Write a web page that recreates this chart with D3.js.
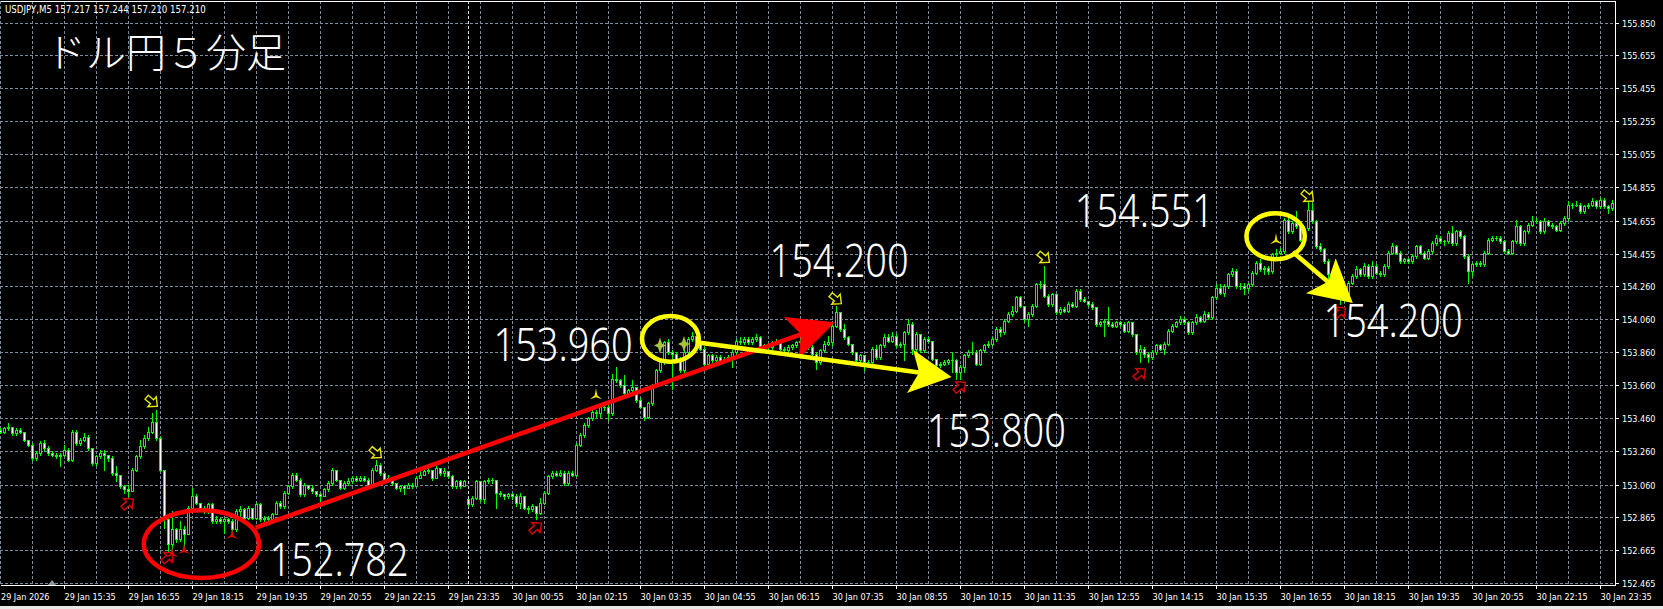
<!DOCTYPE html>
<html>
<head>
<meta charset="utf-8">
<script src="https://cdn.jsdelivr.net/npm/d3@7"></script>
<style>
  html, body { margin: 0; padding: 0; background: #000; }
  svg { display: block; }
  .axis text, .hdr { font-family: "DejaVu Sans Condensed", "DejaVu Sans", sans-serif; font-size: 9px; fill: #fff; }
  .hdr { font-size: 9.6px; }
</style>
</head>
<body>
<svg id="chart" width="1663" height="609"></svg>
<script>
// USDJPY M5, 29 Jan 14:15 .. 30 Jan 23:50, one line = 16 bars (80 min)
var firstOpen = 153.39;
var gapBars = [117];          // 30 Jan 00:00 opens away from the last close
var gapOpens = [152.97];

var closes = [
  153.38, 153.40, 153.41, 153.37, 153.39, 153.38, 153.33, 153.30, 153.22, 153.25, 153.31, 153.28, 153.25, 153.24, 153.23, 153.24,
  153.27, 153.21, 153.38, 153.31, 153.33, 153.35, 153.28, 153.19, 153.23, 153.25, 153.24, 153.22, 153.13, 153.12, 153.05, 153.03,
  153.02, 153.15, 153.23, 153.29, 153.34, 153.38, 153.44, 153.34, 153.15, 152.85, 152.70, 152.79, 152.73, 152.79, 152.76, 152.92,
  152.99, 152.95, 152.92, 152.90, 152.94, 152.84, 152.85, 152.84, 152.85, 152.84, 152.79, 152.90, 152.91, 152.86, 152.92, 152.86,
  152.94, 152.85, 152.86, 152.85, 152.88, 152.95, 152.93, 153.01, 153.05, 153.12, 153.09, 153.00, 153.06, 153.04, 153.02, 153.00,
  152.99, 153.03, 153.07, 153.15, 153.09, 153.04, 153.07, 153.08, 153.10, 153.09, 153.10, 153.09, 153.06, 153.15, 153.18, 153.13,
  153.09, 153.10, 153.07, 153.04, 153.05, 153.04, 153.06, 153.05, 153.10, 153.12, 153.14, 153.15, 153.10, 153.16, 153.13, 153.14,
  153.11, 153.05, 153.08, 153.05, 153.08, 152.94, 152.98, 153.08, 152.97, 153.08, 153.09, 153.09, 153.01, 153.00, 152.99, 153.00,
  152.99, 152.95, 152.99, 152.92, 152.91, 152.93, 152.89, 152.95, 153.01, 153.11, 153.13, 153.12, 153.13, 153.07, 153.13, 153.12,
  153.30, 153.36, 153.42, 153.46, 153.50, 153.49, 153.53, 153.53, 153.49, 153.70, 153.69, 153.66, 153.61, 153.63, 153.65, 153.57,
  153.53, 153.47, 153.55, 153.66, 153.75, 153.80, 153.92, 153.86, 153.85, 153.82, 153.75, 153.86, 153.94, 153.96, 153.91, 153.88,
  153.79, 153.84, 153.81, 153.83, 153.80, 153.82, 153.83, 153.86, 153.93, 153.92, 153.94, 153.92, 153.94, 153.95, 153.89, 153.90,
  153.89, 153.92, 153.93, 153.88, 153.87, 153.89, 153.90, 153.92, 153.93, 153.95, 153.89, 153.85, 153.80, 153.87, 153.91, 153.92,
  154.02, 154.10, 154.00, 153.95, 153.91, 153.86, 153.81, 153.84, 153.80, 153.80, 153.88, 153.83, 153.90, 153.95, 153.93, 153.96,
  153.90, 153.91, 153.98, 154.03, 153.88, 153.97, 153.87, 153.94, 153.93, 153.82, 153.78, 153.79, 153.80, 153.81, 153.81, 153.74,
  153.77, 153.84, 153.86, 153.86, 153.79, 153.87, 153.90, 153.91, 153.94, 154.00, 153.98, 154.05, 154.09, 154.11, 154.19, 154.14,
  154.06, 154.09, 154.14, 154.27, 154.27, 154.20, 154.15, 154.21, 154.10, 154.12, 154.11, 154.15, 154.14, 154.23, 154.18, 154.17,
  154.15, 154.13, 154.03, 154.04, 154.05, 154.03, 154.02, 154.04, 154.03, 153.99, 154.04, 153.97, 153.86, 153.88, 153.85, 153.83,
  153.86, 153.90, 153.88, 153.91, 153.99, 154.02, 154.04, 154.06, 154.04, 153.98, 154.04, 154.07, 154.05, 154.09, 154.07, 154.19,
  154.25, 154.22, 154.26, 154.33, 154.35, 154.26, 154.26, 154.25, 154.27, 154.34, 154.40, 154.36, 154.37, 154.35, 154.45, 154.46,
  154.47, 154.66, 154.59, 154.64, 154.62, 154.54, 154.61, 154.72, 154.65, 154.50, 154.48, 154.41, 154.33, 154.30, 154.20, 154.18,
  154.21, 154.28, 154.32, 154.36, 154.33, 154.38, 154.32, 154.38, 154.34, 154.33, 154.38, 154.46, 154.50, 154.46, 154.41, 154.42,
  154.41, 154.44, 154.50, 154.46, 154.43, 154.47, 154.52, 154.55, 154.53, 154.53, 154.58, 154.52, 154.59, 154.56, 154.44, 154.35,
  154.39, 154.40, 154.39, 154.46, 154.54, 154.55, 154.55, 154.53, 154.47, 154.46, 154.53, 154.62, 154.52, 154.59, 154.63, 154.65,
  154.65, 154.59, 154.65, 154.63, 154.62, 154.60, 154.64, 154.67, 154.75, 154.75, 154.75, 154.71, 154.74, 154.75, 154.77, 154.74,
  154.78, 154.74, 154.73, 154.76
];

var highs = [
  153.40, 153.41, 153.43, 153.41, 153.40, 153.40, 153.38, 153.33, 153.31, 153.26, 153.32, 153.33, 153.29, 153.26, 153.25, 153.25,
  153.30, 153.28, 153.39, 153.39, 153.34, 153.37, 153.36, 153.28, 153.24, 153.27, 153.27, 153.24, 153.23, 153.17, 153.12, 153.06,
  153.06, 153.16, 153.24, 153.33, 153.36, 153.41, 153.49, 153.51, 153.35, 153.15, 152.86, 152.90, 152.80, 152.84, 152.81, 152.93,
  153.04, 153.00, 152.95, 152.93, 152.95, 152.95, 152.87, 152.86, 152.86, 152.86, 152.85, 152.91, 152.93, 152.92, 152.93, 152.92,
  152.95, 152.95, 152.87, 152.87, 152.89, 152.96, 152.96, 153.02, 153.06, 153.13, 153.13, 153.10, 153.07, 153.06, 153.06, 153.02,
  153.01, 153.04, 153.08, 153.16, 153.15, 153.09, 153.08, 153.10, 153.11, 153.11, 153.11, 153.11, 153.10, 153.16, 153.21, 153.19,
  153.13, 153.12, 153.10, 153.07, 153.06, 153.06, 153.07, 153.07, 153.11, 153.14, 153.15, 153.17, 153.15, 153.17, 153.16, 153.16,
  153.14, 153.12, 153.09, 153.09, 153.09, 152.97, 152.99, 153.09, 153.05, 153.09, 153.10, 153.10, 153.09, 153.02, 153.00, 153.01,
  153.01, 153.00, 153.01, 152.99, 152.93, 152.94, 152.93, 152.98, 153.02, 153.12, 153.14, 153.14, 153.15, 153.14, 153.14, 153.14,
  153.31, 153.37, 153.43, 153.47, 153.52, 153.51, 153.54, 153.55, 153.54, 153.73, 153.77, 153.70, 153.72, 153.64, 153.69, 153.65,
  153.58, 153.53, 153.56, 153.67, 153.76, 153.81, 153.93, 153.94, 153.87, 153.86, 153.83, 153.87, 153.95, 153.98, 153.96, 153.92,
  153.89, 153.85, 153.85, 153.84, 153.84, 153.83, 153.84, 153.87, 153.94, 153.95, 153.95, 153.95, 153.95, 153.97, 153.96, 153.91,
  153.91, 153.93, 153.94, 153.93, 153.89, 153.90, 153.91, 153.93, 153.94, 153.97, 153.96, 153.90, 153.86, 153.88, 153.93, 153.96,
  154.04, 154.14, 154.10, 154.03, 153.96, 153.91, 153.86, 153.85, 153.84, 153.81, 153.89, 153.90, 153.91, 153.97, 153.97, 153.98,
  153.97, 153.92, 153.99, 154.06, 154.04, 153.98, 153.97, 153.95, 153.95, 153.93, 153.82, 153.80, 153.81, 153.82, 153.86, 153.82,
  153.78, 153.85, 153.87, 153.92, 153.87, 153.88, 153.91, 153.93, 153.95, 154.01, 154.01, 154.06, 154.10, 154.14, 154.20, 154.20,
  154.14, 154.10, 154.15, 154.28, 154.29, 154.38, 154.21, 154.22, 154.21, 154.13, 154.13, 154.16, 154.16, 154.24, 154.24, 154.19,
  154.17, 154.16, 154.13, 154.05, 154.06, 154.13, 154.04, 154.05, 154.05, 154.04, 154.05, 154.04, 153.97, 153.90, 153.89, 153.86,
  153.87, 153.91, 153.91, 153.92, 154.00, 154.03, 154.05, 154.08, 154.07, 154.05, 154.05, 154.09, 154.08, 154.11, 154.10, 154.20,
  154.27, 154.27, 154.27, 154.34, 154.37, 154.36, 154.28, 154.28, 154.28, 154.35, 154.41, 154.42, 154.38, 154.38, 154.46, 154.48,
  154.49, 154.67, 154.68, 154.65, 154.71, 154.63, 154.62, 154.78, 154.76, 154.66, 154.52, 154.49, 154.42, 154.34, 154.31, 154.21,
  154.22, 154.29, 154.33, 154.38, 154.37, 154.40, 154.39, 154.41, 154.39, 154.35, 154.39, 154.47, 154.52, 154.51, 154.47, 154.43,
  154.43, 154.45, 154.51, 154.51, 154.47, 154.48, 154.53, 154.57, 154.56, 154.54, 154.59, 154.62, 154.60, 154.60, 154.57, 154.45,
  154.40, 154.41, 154.41, 154.47, 154.55, 154.56, 154.56, 154.56, 154.54, 154.48, 154.54, 154.66, 154.63, 154.60, 154.64, 154.68,
  154.67, 154.66, 154.67, 154.66, 154.64, 154.63, 154.65, 154.68, 154.77, 154.76, 154.77, 154.76, 154.75, 154.76, 154.79, 154.78,
  154.79, 154.79, 154.75, 154.78
];

var lows = [
  153.37, 153.37, 153.39, 153.36, 153.36, 153.37, 153.32, 153.29, 153.21, 153.21, 153.24, 153.26, 153.24, 153.23, 153.22, 153.17,
  153.23, 153.20, 153.20, 153.30, 153.30, 153.32, 153.27, 153.18, 153.18, 153.22, 153.15, 153.20, 153.12, 153.08, 153.04, 153.01,
  152.99, 153.02, 153.14, 153.22, 153.28, 153.33, 153.37, 153.33, 153.14, 152.80, 152.66, 152.66, 152.71, 152.72, 152.68, 152.76,
  152.92, 152.94, 152.91, 152.89, 152.89, 152.83, 152.83, 152.83, 152.77, 152.83, 152.78, 152.78, 152.86, 152.85, 152.85, 152.85,
  152.85, 152.84, 152.84, 152.84, 152.84, 152.88, 152.92, 152.92, 153.00, 153.04, 153.08, 152.99, 152.99, 153.03, 153.01, 152.99,
  152.96, 152.99, 153.02, 153.06, 153.08, 153.03, 153.03, 153.06, 153.07, 153.08, 153.08, 153.08, 153.05, 153.05, 153.14, 153.12,
  153.08, 153.08, 153.06, 153.03, 153.02, 153.00, 153.04, 153.04, 153.05, 153.10, 153.12, 153.13, 153.09, 153.10, 153.12, 153.11,
  153.10, 153.04, 153.04, 153.04, 153.05, 152.93, 152.93, 152.97, 152.96, 152.95, 153.07, 153.07, 152.92, 152.99, 152.97, 152.98,
  152.97, 152.93, 152.92, 152.91, 152.89, 152.90, 152.85, 152.88, 152.94, 153.00, 153.10, 153.11, 153.11, 153.06, 153.06, 153.11,
  153.11, 153.29, 153.35, 153.41, 153.45, 153.47, 153.47, 153.51, 153.45, 153.48, 153.68, 153.65, 153.60, 153.60, 153.62, 153.56,
  153.52, 153.45, 153.46, 153.54, 153.65, 153.74, 153.79, 153.85, 153.64, 153.81, 153.74, 153.72, 153.85, 153.93, 153.90, 153.87,
  153.78, 153.78, 153.80, 153.79, 153.79, 153.80, 153.81, 153.77, 153.85, 153.91, 153.91, 153.91, 153.91, 153.93, 153.88, 153.88,
  153.87, 153.88, 153.91, 153.87, 153.86, 153.86, 153.88, 153.89, 153.91, 153.92, 153.88, 153.84, 153.76, 153.79, 153.86, 153.90,
  153.90, 154.01, 153.99, 153.94, 153.90, 153.85, 153.79, 153.80, 153.75, 153.78, 153.79, 153.82, 153.82, 153.89, 153.92, 153.92,
  153.89, 153.89, 153.81, 153.97, 153.85, 153.86, 153.86, 153.86, 153.92, 153.81, 153.77, 153.77, 153.78, 153.79, 153.74, 153.70,
  153.70, 153.74, 153.83, 153.85, 153.78, 153.78, 153.86, 153.89, 153.90, 153.93, 153.96, 153.97, 154.04, 154.08, 154.10, 154.13,
  154.04, 154.02, 154.08, 154.13, 154.25, 154.19, 154.14, 154.14, 154.09, 154.09, 154.10, 154.10, 154.13, 154.13, 154.17, 154.16,
  154.14, 154.12, 154.02, 154.02, 153.96, 154.02, 154.01, 154.01, 154.02, 153.98, 153.98, 153.96, 153.85, 153.80, 153.83, 153.80,
  153.82, 153.85, 153.87, 153.85, 153.90, 153.98, 154.01, 154.03, 154.03, 153.97, 153.97, 154.03, 154.04, 154.04, 154.06, 154.06,
  154.18, 154.21, 154.20, 154.25, 154.32, 154.25, 154.24, 154.21, 154.23, 154.26, 154.33, 154.35, 154.33, 154.33, 154.34, 154.44,
  154.45, 154.46, 154.58, 154.58, 154.61, 154.53, 154.53, 154.60, 154.64, 154.49, 154.47, 154.40, 154.31, 154.28, 154.19, 154.15,
  154.16, 154.20, 154.27, 154.31, 154.32, 154.32, 154.31, 154.31, 154.33, 154.32, 154.32, 154.37, 154.45, 154.45, 154.40, 154.40,
  154.40, 154.40, 154.43, 154.45, 154.42, 154.42, 154.46, 154.51, 154.52, 154.51, 154.52, 154.51, 154.51, 154.55, 154.43, 154.28,
  154.32, 154.38, 154.38, 154.38, 154.45, 154.53, 154.54, 154.52, 154.46, 154.45, 154.45, 154.52, 154.51, 154.51, 154.58, 154.62,
  154.64, 154.58, 154.58, 154.62, 154.61, 154.59, 154.59, 154.63, 154.66, 154.73, 154.74, 154.70, 154.70, 154.73, 154.74, 154.73,
  154.73, 154.73, 154.70, 154.72
];

var priceLabels = ["155.850", "155.655", "155.455", "155.255", "155.055", "154.855", "154.655", "154.455", "154.260",
                   "154.060", "153.860", "153.660", "153.460", "153.260", "153.060", "152.865", "152.665", "152.465"];
var timeLabels = ["29 Jan 2026", "29 Jan 15:35", "29 Jan 16:55", "29 Jan 18:15", "29 Jan 19:35", "29 Jan 20:55",
                  "29 Jan 22:15", "29 Jan 23:35", "30 Jan 00:55", "30 Jan 02:15", "30 Jan 03:35", "30 Jan 04:55",
                  "30 Jan 06:15", "30 Jan 07:35", "30 Jan 08:55", "30 Jan 10:15", "30 Jan 11:35", "30 Jan 12:55",
                  "30 Jan 14:15", "30 Jan 15:35", "30 Jan 16:55", "30 Jan 18:15", "30 Jan 19:35", "30 Jan 20:55",
                  "30 Jan 22:15", "30 Jan 23:35"];
var headerText = "USDJPY,M5  157.217 157.244 157.210 157.210";
var titleText = "ドル円５分足";

// hand drawn notes: text at (bar, price) baseline
var noteTexts = ["152.782", "153.960", "154.200", "153.800", "154.551", "154.200"];
var noteBars = [67.9, 123.9, 192.9, 232.2, 269.2, 331.4];
var notePrices = [152.507, 153.806, 154.314, 153.287, 154.616, 153.951];

// arrows drawn on the chart (bar, price) -> (bar, price)
var arrowFromBar = [63.9, 174.1, 323.2], arrowFromPrice = [152.80, 153.92, 154.465];
var arrowToBar = [208.7, 237.9, 338.2], arrowToPrice = [154.04, 153.71, 154.157];
// ellipses: centre (bar, price), radius (bars, yen)
var ringBar = [50.35, 167.6, 318.9], ringPrice = [152.70, 153.94, 154.56];
var ringRadBars = [14.4, 7.1, 7.3], ringRadYen = [0.205, 0.138, 0.139];

// terminal signal objects
var sellArrowBars = [38, 94, 209, 261, 327], sellArrowPrices = [153.56, 153.25, 154.18, 154.43, 154.80];
var buyArrowBars = [32, 42, 134, 240, 285, 335], buyArrowPrices = [152.945, 152.62, 152.80, 153.65, 153.73, 154.10];
var redTriBars = [43, 46, 58], redTriPrices = [152.645, 152.665, 152.755];
var yellowTriBars = [149, 319], yellowTriPrices = [153.60, 154.537];
var starBars = [165, 171], starPrices = [153.90, 153.909];

var LIME = "#00ff00", GRID = "#7d8a99";
var plotRight = 1615, plotTop = 1, plotBottom = 585;

var svg = d3.select("#chart");
svg.append("rect").attr("width", 1663).attr("height", 609).attr("fill", "#000");
svg.append("rect").attr("x", 0).attr("y", 606).attr("width", 1663).attr("height", 3).attr("fill", "#e8e8e8");

var x = d3.scaleLinear().domain([0, 400]).range([0, 1600]);
var y = d3.scaleLinear().domain([152.465, 155.850]).range([583, 22.7]);
var py = function(v) { return Math.round(y(v)); };

svg.append("clipPath").attr("id", "plot").append("rect")
    .attr("x", 0).attr("y", plotTop).attr("width", plotRight).attr("height", plotBottom - plotTop);

// Grid
var grid = svg.append("g").attr("clip-path", "url(#plot)");
grid.selectAll("line.v").data(d3.range(0, 401, 8)).enter().append("line")
    .attr("x1", function(d) { return x(d) + 0.5; }).attr("x2", function(d) { return x(d) + 0.5; })
    .attr("y1", plotTop).attr("y2", plotBottom)
    .attr("stroke", GRID).attr("stroke-dasharray", "3,2");
grid.selectAll("line.h").data(priceLabels).enter().append("line")
    .attr("x1", 0).attr("x2", plotRight)
    .attr("y1", function(d) { return py(+d) + 0.5; }).attr("y2", function(d) { return py(+d) + 0.5; })
    .attr("stroke", GRID).attr("stroke-dasharray", "3,2");
// day separator
grid.append("line").attr("x1", x(gapBars[0]) + 0.5).attr("x2", x(gapBars[0]) + 0.5)
    .attr("y1", plotTop).attr("y2", plotBottom)
    .attr("stroke", "#e0e0e0").attr("stroke-dasharray", "3,2");

// Candles
var bars = closes.map(function(c, i) {
    var o = i == 0 ? firstOpen : closes[i - 1];
    var g = gapBars.indexOf(i);
    if (g >= 0) o = gapOpens[g];
    return { i: i, o: o, c: c, h: Math.max(highs[i], o, c), l: Math.min(lows[i], o, c) };
});

var cg = svg.append("g").attr("clip-path", "url(#plot)").attr("shape-rendering", "crispEdges");
cg.selectAll("rect.wick").data(bars).enter().append("rect")
    .attr("x", function(d) { return x(d.i); }).attr("width", 1)
    .attr("y", function(d) { return py(d.h); })
    .attr("height", function(d) { return py(d.l) - py(d.h) + 1; })
    .attr("fill", LIME);
cg.selectAll("rect.body").data(bars).enter().append("rect")
    .attr("x", function(d) { return x(d.i) - 1; }).attr("width", 3)
    .attr("y", function(d) { return py(Math.max(d.o, d.c)); })
    .attr("height", function(d) { return py(Math.min(d.o, d.c)) - py(Math.max(d.o, d.c)) + 1; })
    .attr("fill", LIME);
cg.selectAll("rect.fill").data(bars.filter(function(d) {
        return py(Math.min(d.o, d.c)) - py(Math.max(d.o, d.c)) >= 2;
    })).enter().append("rect")
    .attr("x", function(d) { return x(d.i); }).attr("width", 1)
    .attr("y", function(d) { return py(Math.max(d.o, d.c)) + 1; })
    .attr("height", function(d) { return py(Math.min(d.o, d.c)) - py(Math.max(d.o, d.c)) - 1; })
    .attr("fill", function(d) { return d.c < d.o ? "#fff" : "#000"; });

// Signal glyphs
var sg = svg.append("g").attr("clip-path", "url(#plot)");
var blockArrow = "M-7,-2.5 L0,-2.5 L0,-6.5 L7,0 L0,6.5 L0,2.5 L-7,2.5 Z";
sellArrowBars.forEach(function(b, k) {
    sg.append("path").attr("d", blockArrow)
        .attr("transform", "translate(" + x(b) + "," + y(sellArrowPrices[k]) + ") rotate(40)")
        .attr("fill", "#000").attr("stroke", "#e6e600").attr("stroke-width", 1.4);
});
buyArrowBars.forEach(function(b, k) {
    sg.append("path").attr("d", blockArrow)
        .attr("transform", "translate(" + x(b) + "," + y(buyArrowPrices[k]) + ") rotate(-40)")
        .attr("fill", "#000").attr("stroke", "#e00000").attr("stroke-width", 1.4);
});
var tri = "M0,-7 L1.3,0 L6,4 L0,2 L-6,4 L-1.3,0 Z";
redTriBars.forEach(function(b, k) {
    sg.append("path").attr("d", tri)
        .attr("transform", "translate(" + x(b) + "," + y(redTriPrices[k]) + ")").attr("fill", "#e00000");
});
yellowTriBars.forEach(function(b, k) {
    sg.append("path").attr("d", tri)
        .attr("transform", "translate(" + x(b) + "," + y(yellowTriPrices[k]) + ")").attr("fill", "#f0e000");
});
var star = "M0,-8 L2,-2 L6,0 L2,2 L0,8 L-2,2 L-6,0 L-2,-2 Z";
starBars.forEach(function(b, k) {
    sg.append("path").attr("d", star)
        .attr("transform", "translate(" + x(b) + "," + y(starPrices[k]) + ")").attr("fill", "#a9c23f");
});

// Hand drawn rings and arrows
var ringColors = ["#ff0000", "#ffff00", "#ffff00"];
ringBar.forEach(function(b, k) {
    svg.append("ellipse").attr("cx", x(b)).attr("cy", y(ringPrice[k]))
        .attr("rx", x(ringRadBars[k]) - x(0)).attr("ry", y(152.465) - y(152.465 + ringRadYen[k]))
        .attr("fill", "none").attr("stroke", ringColors[k]).attr("stroke-width", 4.5);
});

function drawArrow(p0, p1, color, headLen, headHalf) {
    var dx = p1[0] - p0[0], dy = p1[1] - p0[1], len = Math.sqrt(dx * dx + dy * dy);
    var ux = dx / len, uy = dy / len, nx = -uy, ny = ux;
    var bx = p1[0] - ux * headLen, by = p1[1] - uy * headLen;
    var notch = [p1[0] - ux * headLen * 0.78, p1[1] - uy * headLen * 0.78];
    svg.append("line").attr("x1", p0[0]).attr("y1", p0[1]).attr("x2", notch[0]).attr("y2", notch[1])
        .attr("stroke", color).attr("stroke-width", 4.5);
    svg.append("path")
        .attr("d", "M" + p1 + "L" + [bx + nx * headHalf, by + ny * headHalf] + "L" + notch +
                   "L" + [bx - nx * headHalf, by - ny * headHalf] + "Z")
        .attr("fill", color);
}
var arrowColors = ["#ff0000", "#ffff00", "#ffff00"];
var headLens = [46, 42, 42], headHalfs = [22, 22, 23];
arrowFromBar.forEach(function(b, k) {
    drawArrow([x(b), y(arrowFromPrice[k])], [x(arrowToBar[k]), y(arrowToPrice[k])],
              arrowColors[k], headLens[k], headHalfs[k]);
});

// Notes
noteTexts.forEach(function(t, k) {
    svg.append("text").attr("x", x(noteBars[k]) - 2).attr("y", y(notePrices[k]))
        .attr("font-family", "'Noto Sans', 'Open Sans', sans-serif").attr("font-weight", 300)
        .attr("font-size", 46).attr("fill", "#fff")
        .attr("textLength", 139).attr("lengthAdjust", "spacingAndGlyphs")
        .text(t);
});
svg.append("text").attr("x", 46).attr("y", 67)
    .attr("font-family", "'Noto Sans CJK JP', sans-serif").attr("font-weight", 300)
    .attr("font-size", 40).attr("fill", "#fff").text(titleText);
svg.append("text").attr("class", "hdr").attr("x", 5).attr("y", 13).text(headerText);

// Frame and axes
svg.append("path")
    .attr("d", "M0.5," + (plotTop + 0.5) + "H" + (plotRight + 0.5) + "V" + (plotBottom + 0.5) + "H0.5")
    .attr("fill", "none").attr("stroke", "#fff").attr("shape-rendering", "crispEdges");

var ya = svg.append("g").attr("class", "axis");
priceLabels.forEach(function(t) {
    var yy = py(+t) + 0.5;
    ya.append("line").attr("x1", plotRight).attr("x2", plotRight + 4).attr("y1", yy).attr("y2", yy)
        .attr("stroke", "#fff").attr("shape-rendering", "crispEdges");
    ya.append("text").attr("x", plotRight + 7).attr("y", yy + 3.5).text(t);
});
var xa = svg.append("g").attr("class", "axis");
timeLabels.forEach(function(t, k) {
    var xx = x(k * 16) + 0.5;
    if (k > 0) {
        xa.append("line").attr("x1", xx).attr("x2", xx).attr("y1", plotBottom).attr("y2", plotBottom + 4)
            .attr("stroke", "#fff").attr("shape-rendering", "crispEdges");
    }
    xa.append("text").attr("x", k == 0 ? 1 : xx).attr("y", 600).text(t);
});
// scroll marker
svg.append("path").attr("d", "M48,585 L52,580 L56,585 Z").attr("fill", "#8a96a3");
</script>
</body>
</html>
